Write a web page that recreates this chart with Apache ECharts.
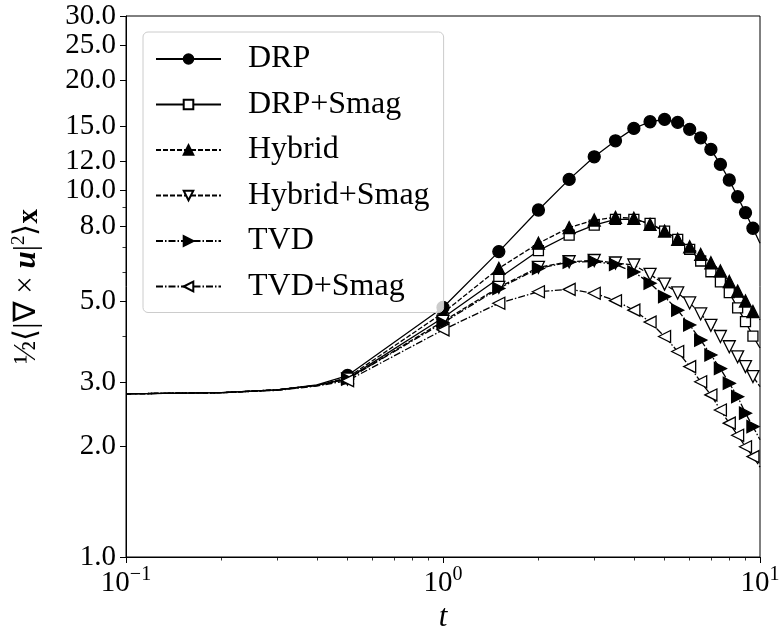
<!DOCTYPE html>
<html><head><meta charset="utf-8">
<script src="https://cdn.jsdelivr.net/npm/echarts@6/dist/echarts.min.js"></script>
<style>html,body{margin:0;padding:0;background:#fff}#c{width:781px;height:628px}</style>
</head><body><div id="c"></div>
<script>
// time samples (markers drawn at 0.5 ... 9.5)
const times = [0.1,0.2,0.3,0.4,0.5,1.0,1.5,2.0,2.5,3.0,3.5,4.0,4.5,5.0,5.5,6.0,6.5,7.0,7.5,8.0,8.5,9.0,9.5,10.0];
const drp       = [2.79,2.81,2.86,2.95,3.13,4.80,6.82,8.86,10.74,12.38,13.69,14.80,15.43,15.66,15.37,14.71,13.95,12.97,11.80,10.70,9.63,8.71,7.90,7.19];
const drpSmag   = [2.79,2.81,2.86,2.94,3.07,4.50,5.77,6.86,7.57,8.06,8.35,8.35,8.15,7.76,7.37,6.92,6.43,6.01,5.64,5.27,4.79,4.39,4.01,3.72];
const hybrid    = [2.79,2.81,2.86,2.94,3.09,4.64,6.14,7.19,7.93,8.32,8.46,8.41,8.09,7.76,7.37,7.03,6.70,6.36,6.04,5.65,5.32,5.00,4.68,4.44];
const hybridSmag= [2.79,2.81,2.86,2.94,3.06,4.40,5.45,6.18,6.40,6.45,6.35,6.27,5.91,5.56,5.26,4.94,4.61,4.29,4.00,3.75,3.52,3.31,3.11,2.92];
const tvd       = [2.79,2.81,2.86,2.94,3.06,4.36,5.41,6.14,6.38,6.41,6.29,6.00,5.59,5.14,4.72,4.30,3.91,3.56,3.27,2.98,2.74,2.47,2.27,2.09];
const tvdSmag   = [2.79,2.81,2.85,2.93,3.03,4.17,4.93,5.30,5.38,5.25,5.01,4.72,4.38,4.00,3.64,3.31,3.01,2.77,2.52,2.32,2.15,2.00,1.88,1.76];

const seriesNames = ['DRP','DRP+Smag','Hybrid','Hybrid+Smag','TVD','TVD+Smag'];
const seriesValues = [drp, drpSmag, hybrid, hybridSmag, tvd, tvdSmag];

const xMajorTicks = [0.1, 1, 10];
const xMinorTicks = [0.2,0.3,0.4,0.5,0.6,0.7,0.8,0.9,2,3,4,5,6,7,8,9];
const yMajorTicks = [1,2,3,5,8,10,12,15,20,25,30];
const yMinorTicks = [4,6,7,9];

const FONT = 'Liberation Serif';
const styles = [
  {symbol:'circle', size:12, fill:'#000', rot:0, dash:'solid'},
  {symbol:'rect', size:10, fill:'#fff', rot:0, dash:'solid'},
  {symbol:'triangle', size:12, fill:'#000', rot:0, dash:[5,2]},
  {symbol:'triangle', size:12, fill:'#fff', rot:180, dash:[5,2]},
  {symbol:'triangle', size:12, fill:'#000', rot:-90, dash:[7,2,1.5,2]},
  {symbol:'triangle', size:12, fill:'#fff', rot:90, dash:[7,2,1.5,2]}
];

const series = seriesNames.map((name, k) => {
  const st = styles[k];
  return {
    name: name,
    type: 'line',
    xAxisIndex: 0, yAxisIndex: 0,
    smooth: false,
    symbol: st.symbol,
    symbolSize: st.size,
    symbolRotate: st.rot,
    showAllSymbol: true,
    lineStyle: {color:'#000', width:1.3, type: st.dash},
    itemStyle: {color: st.fill, borderColor:'#000', borderWidth:1.3},
    emphasis: {disabled: true},
    data: times.map((t, i) => {
      const item = {value: [t, seriesValues[k][i]]};
      if (t < 0.5 || t > 9.5) item.symbol = 'none';
      return item;
    })
  };
});

const chart = echarts.init(document.getElementById('c'), null, {renderer:'canvas'});
chart.setOption({
  animation: false,
  backgroundColor: '#fff',
  grid: {left:126, right:21, top:16, bottom:71, containLabel:false, outerBoundsMode:'none',
         show:true, borderColor:'#000', borderWidth:1, backgroundColor:'transparent'},
  legend: {
    left: 143, top: 32, orient: 'vertical',
    data: seriesNames,
    itemWidth: 65, itemHeight: 12, itemGap: 13.5,
    padding: [11, 14, 10, 12],
    backgroundColor: 'rgba(255,255,255,0.8)',
    borderColor: '#cccccc', borderWidth: 1, borderRadius: 5,
    textStyle: {fontFamily: FONT, fontSize: 32, color:'#000', lineHeight: 30, padding:[0,0,0,22]}
  },
  xAxis: [
    {
      type:'log', logBase:10, min:0.1, max:10, position:'bottom', gridIndex:0,
      name: 't', nameLocation:'middle', nameGap: 43,
      nameTextStyle: {fontFamily: FONT, fontSize: 31, fontStyle:'italic', color:'#000'},
      axisLine: {show:true, lineStyle:{color:'#000', width:1}},
      axisTick: {show:true, length:6, lineStyle:{color:'#000', width:1}, customValues: xMajorTicks},
      axisLabel: {
        customValues: xMajorTicks, margin: 8, color:'#000', fontFamily: FONT, fontSize: 29,
        formatter: v => {
          const e = Math.round(Math.log10(v));
          return '10{s|' + (e < 0 ? '−' + (-e) : e) + '}';
        },
        rich: {s: {fontFamily: FONT, fontSize: 20, color:'#000', padding:[0,0,16,0]}}
      },
      splitLine: {show:false}, minorTick:{show:false}
    },
    {
      type:'log', logBase:10, min:0.1, max:10, position:'bottom', gridIndex:0,
      axisLine: {show:false},
      axisTick: {show:true, length:3.5, lineStyle:{color:'#000', width:0.8}, customValues: xMinorTicks},
      axisLabel: {show:false},
      splitLine: {show:false}
    }
  ],
  yAxis: [
    {
      type:'log', logBase:10, min:1, max:30, position:'left', gridIndex:0,
      name: '{a|½⟨|∇ × }{u|u}{a||}{s|2}{a|⟩}{x|x}',
      nameLocation:'middle', nameGap: 82,
      nameTextStyle: {
        color:'#000',
        rich: {
          a: {fontFamily: FONT, fontSize: 31, color:'#000'},
          u: {fontFamily: FONT, fontSize: 31, color:'#000', fontWeight:'bold', fontStyle:'italic'},
          s: {fontFamily: FONT, fontSize: 19, color:'#000', padding:[0,0,14,0]},
          x: {fontFamily: FONT, fontSize: 29, color:'#000', fontWeight:'bold', padding:[6,0,0,0]}
        }
      },
      axisLine: {show:true, lineStyle:{color:'#000', width:1}},
      axisTick: {show:true, length:6, lineStyle:{color:'#000', width:1}, customValues: yMajorTicks},
      axisLabel: {
        customValues: yMajorTicks, margin: 10, color:'#000', fontFamily: FONT, fontSize: 29,
        formatter: v => Number(v).toFixed(1)
      },
      splitLine: {show:false}
    },
    {
      type:'log', logBase:10, min:1, max:30, position:'left', gridIndex:0,
      axisLine: {show:false},
      axisTick: {show:true, length:3.5, lineStyle:{color:'#000', width:0.8}, customValues: yMinorTicks},
      axisLabel: {show:false},
      splitLine: {show:false}
    }
  ],
  series: series
});
</script>
</body></html>
